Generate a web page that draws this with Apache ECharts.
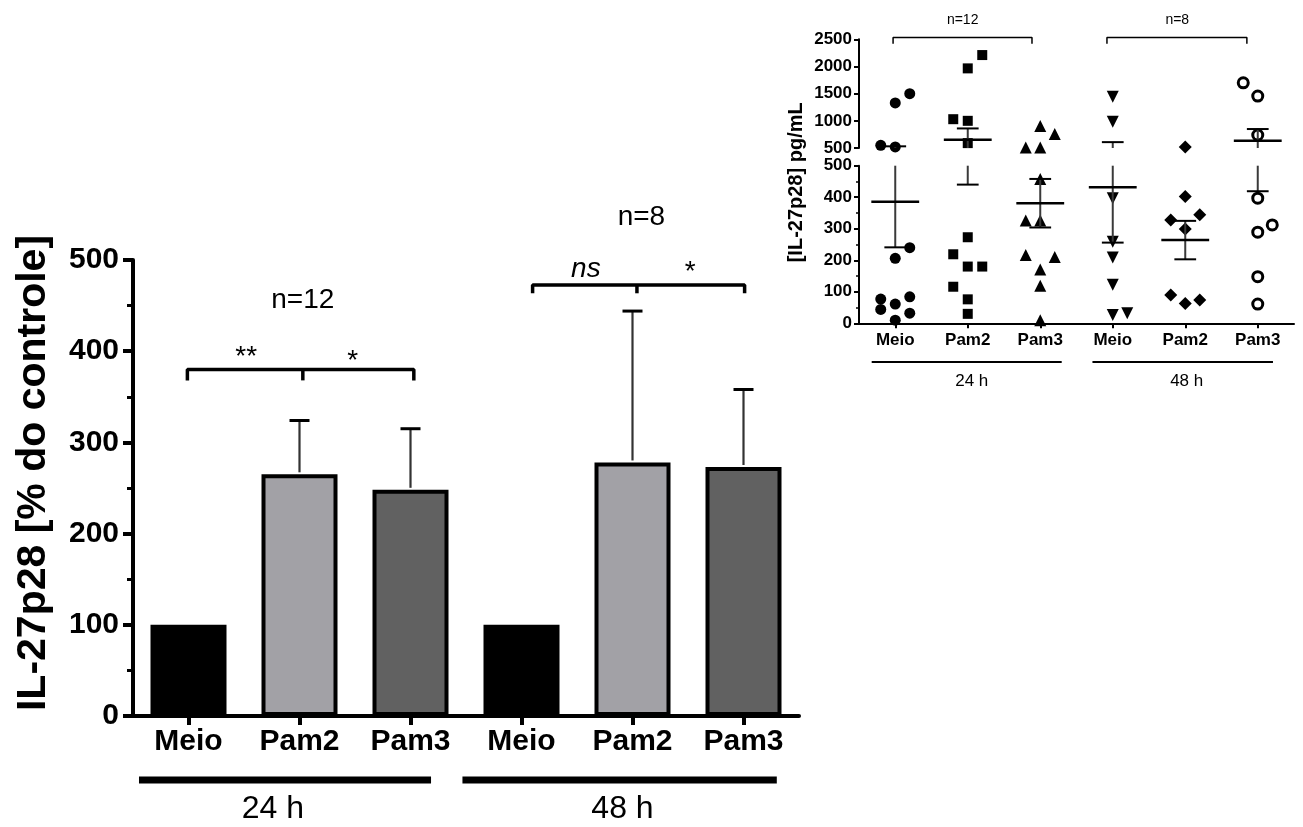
<!DOCTYPE html>
<html><head><meta charset="utf-8">
<script src="https://cdn.jsdelivr.net/npm/echarts@6/dist/echarts.min.js"></script>
<style>html,body{margin:0;padding:0;background:#fff}#c{width:1303px;height:827px}</style>
</head><body><div id="c"></div>
<script>
// ---------------- DATA ----------------
const categories = ['Meio', 'Pam2', 'Pam3', 'Meio', 'Pam2', 'Pam3'];
const groupLabels = ['24 h', '48 h'];
const groupN = ['n=12', 'n=8'];
// main chart: IL-27p28 [% do controle]
const barMeans = [100, 265, 248, 100, 278, 273];
const barErrTop = [null, 324, 315, null, 444, 358];
const sig24 = ['**', '*'];
const sig48 = ['ns', '*'];
const mainTicks = [0, 100, 200, 300, 400, 500];
// inset: [IL-27p28] pg/mL, individual values
const insetMeio24 = [1500, 1330, 550, 520, 240, 206, 84, 77, 61, 44, 32, 10];
const insetPam2_24 = [2210, 1965, 1030, 1000, 590, 273, 219, 180, 180, 116, 76, 30];
const insetPam3_24 = [904, 757, 510, 510, 458, 326, 326, 217, 210, 171, 119, 10];
const insetMeio48 = [1443, 983, 397, 259, 209, 122, 26, 32];
const insetPam2_48 = [520, 402, 344, 328, 299, 90, 74, 63];
const insetPam3_48 = [1700, 1456, 739, 397, 312, 289, 148, 61];
// jitter side of each point (-1 left, 0 centre, 1 right)
const jitMeio24 = [1, 0, -1, 0, 1, 0, 1, -1, 0, -1, 1, 0];
const jitPam2_24 = [1, 0, -1, 0, 0, 0, -1, 0, 1, -1, 0, 0];
const jitPam3_24 = [0, 1, -1, 0, 0, -1, 0, -1, 1, 0, 0, 0];
const jitMeio48 = [0, 0, 0, 0, 0, 0, 0, 1];
const jitPam2_48 = [0, 0, 1, -1, 0, -1, 1, 0];
const jitPam3_48 = [-1, 0, 0, 0, 1, 0, 0, 0];
const insetMean = [386, 650, 381, 432, 264, 634];
const insetSem = [145, 210, 77, 176, 61, 215];
const insetTicksUpper = [500, 1000, 1500, 2000, 2500];
const insetTicksLower = [0, 100, 200, 300, 400, 500];

// ---------------- STYLE ----------------
const FF = '"Liberation Sans", Arial, Helvetica, sans-serif';
const BREAK = 500;
const JIT = 0.2;
const barFill = ['#000000', '#a2a1a6', '#616161', '#000000', '#a2a1a6', '#616161'];

const insetPts = [insetMeio24, insetPam2_24, insetPam3_24, insetMeio48, insetPam2_48, insetPam3_48];
const insetJit = [jitMeio24, jitPam2_24, jitPam3_24, jitMeio48, jitPam2_48, jitPam3_48];
const insetSym = ['circle', 'rect', 'triangle', 'triangle', 'diamond', 'circle'];
const insetSymSize = [11, 10, 12, 12, 13, 10];
const insetRot = [0, 0, 0, 180, 0, 0];
const insetHollow = [false, false, false, false, false, true];

const chart = echarts.init(document.getElementById('c'), null, { renderer: 'canvas' });

const series = [];
// main bars
series.push({
  type: 'bar', xAxisIndex: 0, yAxisIndex: 0, barWidth: 76,
  data: barMeans.map((v, i) => ({ value: v, itemStyle: { color: barFill[i], borderColor: '#000', borderWidth: 4 } })),
  z: 2
});
// main error bars
series.push({
  type: 'custom', xAxisIndex: 0, yAxisIndex: 0, z: 3, clip: false,
  encode: { x: 0, y: 1 },
  data: barMeans.map((m, i) => [i, m, barErrTop[i] == null ? m : barErrTop[i]]),
  renderItem: (params, api) => {
    const i = api.value(0), m = api.value(1), t = api.value(2);
    if (t <= m) return { type: 'group', children: [] };
    const a = api.coord([i, m]), b = api.coord([i, t]);
    return { type: 'group', children: [
      { type: 'line', shape: { x1: a[0], y1: a[1] - 2, x2: b[0], y2: b[1] }, style: { stroke: '#333', lineWidth: 2.2 } },
      { type: 'line', shape: { x1: b[0] - 10, y1: b[1], x2: b[0] + 10, y2: b[1] }, style: { stroke: '#000', lineWidth: 3 } }
    ]};
  }
});
// significance brackets (x in category units on a hidden value axis)
function bracket(x0, xm, x1, y, y2, xi, yi, w) {
  const ls = { color: '#000', width: w };
  const out = [
    { type: 'line', xAxisIndex: xi, yAxisIndex: yi, symbol: 'none', clip: false, silent: true, lineStyle: ls,
      data: [[x0, y2], [x0, y], [x1, y], [x1, y2]] }
  ];
  if (xm != null) out.push({ type: 'line', xAxisIndex: xi, yAxisIndex: yi, symbol: 'none', clip: false, silent: true, lineStyle: ls,
      data: [[xm, y], [xm, y2]] });
  return out;
}
series.push(...bracket(-0.01, 1.03, 2.03, 380, 368, 1, 0, 3.5));
series.push(...bracket(3.10, 4.04, 5.01, 472.5, 463.5, 1, 0, 3.5));

// inset scatter points
insetPts.forEach((pts, g) => {
  const up = [], lo = [];
  pts.forEach((v, k) => {
    const p = [g + insetJit[g][k] * JIT, v];
    (v > BREAK ? up : lo).push(p);
  });
  const base = {
    type: 'scatter', symbol: insetSym[g], symbolSize: insetSymSize[g], symbolRotate: insetRot[g], clip: false, z: 4,
    itemStyle: insetHollow[g] ? { color: '#fff', borderColor: '#000', borderWidth: 3, opacity: 1 } : { color: '#000', opacity: 1 }
  };
  series.push(Object.assign({}, base, { xAxisIndex: 2, yAxisIndex: 1, data: up }));
  series.push(Object.assign({}, base, { xAxisIndex: 4, yAxisIndex: 2, data: lo }));
});
// inset mean +- SEM
function statsSeries(xi, yi, ymin, ymax) {
  return {
    type: 'custom', xAxisIndex: xi, yAxisIndex: yi, clip: false, z: 5,
    encode: { x: 0, y: 1 },
    data: insetMean.map((m, g) => [g, m, m - insetSem[g], m + insetSem[g]]),
    renderItem: (params, api) => {
      const g = api.value(0), m = api.value(1), lo = api.value(2), hi = api.value(3);
      const ch = [];
      const cl = v => Math.max(ymin, Math.min(ymax, v));
      if (hi > ymin && lo < ymax) {
        const a = api.coord([g, cl(lo)]), b = api.coord([g, cl(hi)]);
        ch.push({ type: 'line', shape: { x1: a[0], y1: a[1], x2: b[0], y2: b[1] }, style: { stroke: '#3a3a3a', lineWidth: 2 } });
      }
      [lo, hi].forEach(v => {
        if (v >= ymin && v <= ymax) {
          const a = api.coord([g - 0.15, v]), b = api.coord([g + 0.15, v]);
          ch.push({ type: 'line', shape: { x1: a[0], y1: a[1], x2: b[0], y2: b[1] }, style: { stroke: '#000', lineWidth: 2 } });
        }
      });
      if (m >= ymin && m <= ymax) {
        const a = api.coord([g - 0.33, m]), b = api.coord([g + 0.33, m]);
        ch.push({ type: 'line', shape: { x1: a[0], y1: a[1], x2: b[0], y2: b[1] }, style: { stroke: '#000', lineWidth: 2.5 } });
      }
      return { type: 'group', children: ch };
    }
  };
}
series.push(statsSeries(2, 1, BREAK, 2500));
series.push(statsSeries(4, 2, 0, BREAK));
// inset brackets
series.push(...bracket(-0.03, null, 1.886, 2535, 2420, 2, 1, 1.5));
series.push(...bracket(2.92, null, 4.85, 2535, 2420, 2, 1, 1.5));

const hiddenVal = (grid) => ({ type: 'value', gridIndex: grid, min: -0.5, max: 5.5, show: false });
const txt = (size, bold) => ({ color: '#000', fontFamily: FF, fontSize: size, fontWeight: bold ? 'bold' : 'normal' });
const plain = v => String(v);

const option = {
  animation: false,
  backgroundColor: '#fff',
  grid: [
    { left: 133, top: 260, width: 666, height: 456, containLabel: false, outerBoundsMode: 'none' },
    { left: 859, top: 39.3, width: 435, height: 108.7, containLabel: false, outerBoundsMode: 'none' },
    { left: 859, top: 165.7, width: 435, height: 157.6, containLabel: false, outerBoundsMode: 'none' }
  ],
  xAxis: [
    { type: 'category', gridIndex: 0, data: categories, boundaryGap: true,
      axisLine: { show: true, onZero: false, lineStyle: { color: '#000', width: 4 } },
      axisTick: { show: true, alignWithLabel: true, length: 9, lineStyle: { color: '#000', width: 4 } },
      axisLabel: Object.assign(txt(30, true), { margin: 11 }), splitLine: { show: false } },
    hiddenVal(0),
    hiddenVal(1),
    { type: 'category', gridIndex: 2, data: categories, boundaryGap: true,
      axisLine: { show: true, onZero: false, lineStyle: { color: '#000', width: 2 } },
      axisTick: { show: true, alignWithLabel: true, length: 5, lineStyle: { color: '#000', width: 2 } },
      axisLabel: Object.assign(txt(17, true), { margin: 9 }), splitLine: { show: false } },
    hiddenVal(2)
  ],
  yAxis: [
    { type: 'value', gridIndex: 0, min: mainTicks[0], max: mainTicks[mainTicks.length - 1], interval: 100,
      name: 'IL-27p28 [% do controle]', nameLocation: 'middle', nameGap: 79, nameRotate: 90,
      nameTextStyle: Object.assign(txt(41, true), { padding: [0, 0, 0, 30] }),
      axisLine: { show: true, onZero: false, lineStyle: { color: '#000', width: 4 } },
      axisTick: { show: true, length: 10, lineStyle: { color: '#000', width: 4 } },
      minorTick: { show: true, splitNumber: 2, length: 6, lineStyle: { color: '#000', width: 3 } },
      axisLabel: Object.assign(txt(30, true), { margin: 14, formatter: plain }), splitLine: { show: false } },
    { type: 'value', gridIndex: 1, min: insetTicksUpper[0], max: insetTicksUpper[insetTicksUpper.length - 1], interval: 500,
      axisLine: { show: true, onZero: false, lineStyle: { color: '#000', width: 2 } },
      axisTick: { show: true, length: 5, lineStyle: { color: '#000', width: 2 } },
      axisLabel: Object.assign(txt(17, true), { margin: 7, formatter: plain }), splitLine: { show: false } },
    { type: 'value', gridIndex: 2, min: insetTicksLower[0], max: insetTicksLower[insetTicksLower.length - 1], interval: 100,
      axisLine: { show: true, onZero: false, lineStyle: { color: '#000', width: 2 } },
      axisTick: { show: true, length: 5, lineStyle: { color: '#000', width: 2 } },
      minorTick: { show: true, splitNumber: 2, length: 3, lineStyle: { color: '#000', width: 1.5 } },
      axisLabel: Object.assign(txt(17, true), { margin: 7, formatter: plain }), splitLine: { show: false } }
  ],
  series: series
};
chart.setOption(option);

// ---------- annotations positioned through the axes ----------
const px = (xi, v) => chart.convertToPixel({ xAxisIndex: xi }, v);
const py = (yi, v) => chart.convertToPixel({ yAxisIndex: yi }, v);
const G = [];
function text(x, y, s, size, opts) {
  G.push({ type: 'text', x: x, y: y, silent: true,
    style: { text: s, fill: '#000', font: (opts && opts.italic ? 'italic ' : '') + (opts && opts.bold ? 'bold ' : '') + size + 'px ' + FF,
      textAlign: 'center', textVerticalAlign: 'middle' },
    rotation: opts && opts.rot ? opts.rot : 0 });
}
function hline(x1, x2, y, w) {
  G.push({ type: 'line', silent: true, shape: { x1: x1, y1: y, x2: x2, y2: y }, style: { stroke: '#000', lineWidth: w } });
}
// main: group lines & labels
hline(px(1, -0.446), px(1, 2.185), 780, 7);
hline(px(1, 2.468), px(1, 5.30), 780, 7);
text(px(1, 0.76), 809, groupLabels[0], 32);
text(px(1, 3.91), 809, groupLabels[1], 32);
// main: n and significance labels
text(px(1, 1.03), py(0, 456), groupN[0], 28);
text(px(1, 4.08), py(0, 547), groupN[1], 28);
text(px(1, 0.52), py(0, 393), sig24[0], 28);
text(px(1, 1.48), py(0, 389), sig24[1], 28);
text(px(1, 3.58), py(0, 490), sig48[0], 28, { italic: true });
text(px(1, 4.52), py(0, 487), sig48[1], 28);
// inset: group lines & labels
hline(px(4, -0.325), px(4, 2.296), 362, 2);
hline(px(4, 2.72), px(4, 5.21), 362, 2);
text(px(4, 1.055), 381, groupLabels[0], 17);
text(px(4, 4.02), 381, groupLabels[1], 17);
// inset: n labels
text(px(2, 0.93), 20, groupN[0], 14);
text(px(2, 3.89), 20, groupN[1], 14);
// inset y title
text(796, (py(1, 2500) + py(2, 0)) / 2 + 1, '[IL-27p28] pg/mL', 20, { bold: true, rot: Math.PI / 2 });
chart.setOption({ graphic: G });
</script>
</body></html>
